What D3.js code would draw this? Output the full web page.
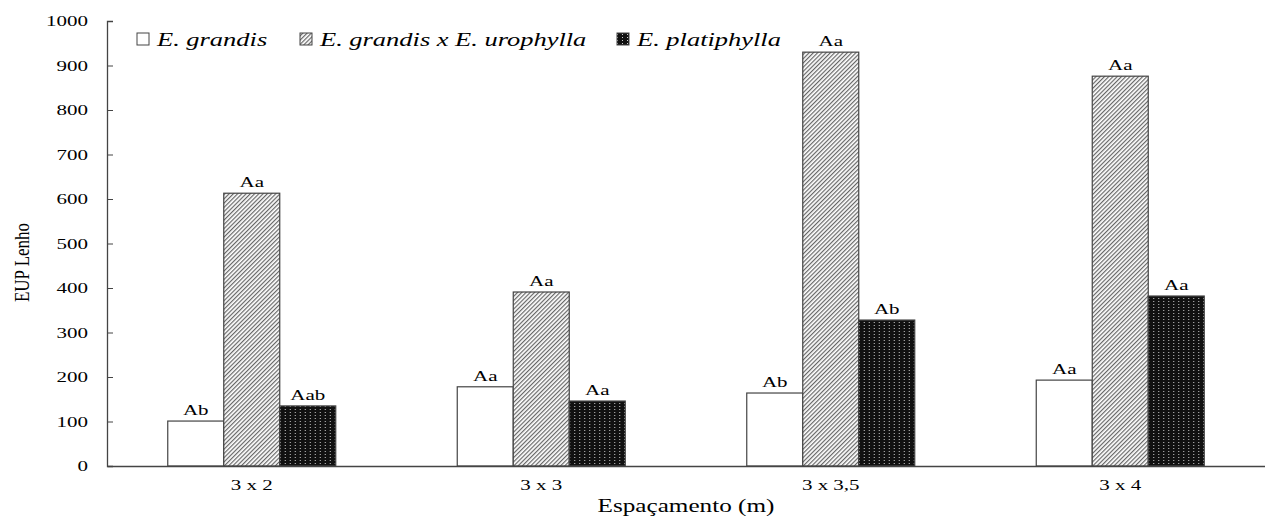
<!DOCTYPE html>
<html lang="pt">
<head>
  <meta charset="utf-8">
  <script src="https://cdn.jsdelivr.net/npm/d3@7"></script>
  <style>
    body { margin: 0; background: #fff; }
    text { font-family: "Liberation Serif", "Times New Roman", serif; fill: #000; }
  </style>
</head>
<body>
  <script>
    var categories = ["3 x 2", "3 x 3", "3 x 3,5", "3 x 4"];
    var seriesNames = ["E. grandis", "E. grandis x E. urophylla", "E. platiphylla"];
    var grandis = [101, 178, 164, 193];
    var hybrid = [613, 391, 930, 876];
    var platiphylla = [135, 146, 328, 382];
    var grandisLabels = ["Ab", "Aa", "Ab", "Aa"];
    var hybridLabels = ["Aa", "Aa", "Aa", "Aa"];
    var platiphyllaLabels = ["Aab", "Aa", "Ab", "Aa"];
    var yTicks = [0, 100, 200, 300, 400, 500, 600, 700, 800, 900, 1000];

    var w = 1265, h = 516;
    var margin = { top: 21, left: 107, right: 0, bottom: 50 };
    var width = w - margin.left - margin.right;
    var height = h - margin.top - margin.bottom;
    var stretch = 1.4; // the original figure's text is stretched sideways

    var svg = d3.select("body").append("svg")
                .attr("width", w)
                .attr("height", h);

    var defs = svg.append("defs");
    var hatch = defs.append("pattern")
                    .attr("id", "hatch")
                    .attr("patternUnits", "userSpaceOnUse")
                    .attr("width", 3)
                    .attr("height", 3)
                    .attr("patternTransform", "rotate(45)");
    hatch.append("rect").attr("width", 3).attr("height", 3).attr("fill", "#fff");
    hatch.append("rect").attr("width", 1.2).attr("height", 3).attr("fill", "#666");

    var dots = defs.append("pattern")
                   .attr("id", "dots")
                   .attr("patternUnits", "userSpaceOnUse")
                   .attr("width", 5)
                   .attr("height", 3);
    dots.append("rect").attr("width", 5).attr("height", 3).attr("fill", "#111");
    dots.append("rect").attr("x", 2).attr("y", 1).attr("width", 1).attr("height", 1).attr("fill", "#ccc");

    var fills = ["#fff", "url(#hatch)", "url(#dots)"];
    var series = [grandis, hybrid, platiphylla];
    var labels = [grandisLabels, hybridLabels, platiphyllaLabels];

    function wideText(sel, x, y, txt, size, k) {
      return sel.append("text")
                .attr("transform", "translate(" + x + "," + y + ") scale(" + (k || stretch) + ",1)")
                .style("font-size", size + "px")
                .text(txt);
    }

    var g = svg.append("g")
               .attr("transform", "translate(" + margin.left + "," + margin.top + ")");

    var x0 = d3.scaleBand()
               .domain(categories)
               .range([0, width]);
    var x1 = d3.scaleBand()
               .domain([0, 1, 2])
               .range([0, 168]);
    var y = d3.scaleLinear()
              .domain([0, 1000])
              .range([height, 0]);

    // bars
    categories.forEach(function (cat, ci) {
      var grp = g.append("g")
                 .attr("transform", "translate(" + (x0(cat) + (x0.bandwidth() - 168) / 2) + ",0)");
      series.forEach(function (vals, si) {
        grp.append("rect")
           .attr("x", x1(si))
           .attr("y", y(vals[ci]))
           .attr("width", x1.bandwidth())
           .attr("height", height - y(vals[ci]))
           .attr("fill", fills[si])
           .attr("stroke", "#444")
           .attr("stroke-width", 1.2);
        wideText(grp, x1(si) + x1.bandwidth() / 2, y(vals[ci]) - 6, labels[si][ci], 15)
           .attr("text-anchor", "middle");
      });
    });

    // axes
    var yAxis = d3.axisRight(y)
                  .tickValues(yTicks)
                  .tickSize(6)
                  .tickFormat(d3.format("d"));
    var ya = g.append("g").call(yAxis);
    ya.select(".domain").attr("stroke", "#444").attr("stroke-width", 1.3);
    ya.selectAll(".tick line").attr("stroke", "#444");
    ya.selectAll(".tick text")
      .attr("x", -19 / stretch)
      .attr("dy", "0.32em")
      .attr("transform", "scale(" + stretch + ",1)")
      .attr("text-anchor", "end")
      .style("font-size", "15px");

    var xAxis = d3.axisBottom(x0).tickSize(0).tickPadding(13);
    var xa = g.append("g")
              .attr("transform", "translate(0," + height + ")")
              .call(xAxis);
    xa.select(".domain").attr("stroke", "#444").attr("stroke-width", 1.3);
    xa.selectAll(".tick text")
      .attr("transform", "scale(" + stretch + ",1)")
      .style("font-size", "15px");

    wideText(g, width / 2, height + 46, "Espaçamento (m)", 18)
     .attr("text-anchor", "middle");

    g.append("text")
     .attr("transform", "translate(-78," + (height / 2 + 19) + ") rotate(-90) scale(0.85,1)")
     .attr("text-anchor", "middle")
     .style("font-size", "20px")
     .text("EUP Lenho");

    // legend
    var legendX = [137, 300, 617];
    var legend = svg.append("g");
    seriesNames.forEach(function (name, i) {
      legend.append("rect")
            .attr("x", legendX[i])
            .attr("y", 33)
            .attr("width", 12)
            .attr("height", 12)
            .attr("fill", fills[i])
            .attr("stroke", "#444");
      wideText(legend, legendX[i] + 20, 46, name, 18, 1.47)
            .style("font-style", "italic");
    });
  </script>
</body>
</html>
